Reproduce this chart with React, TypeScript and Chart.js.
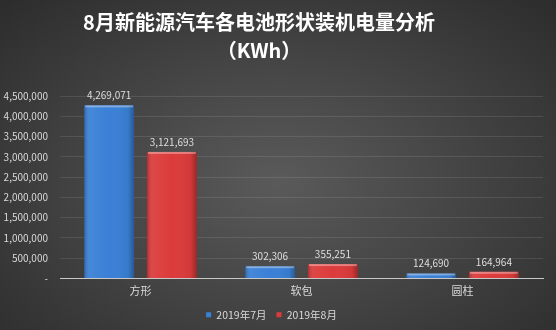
import React, { useEffect, useRef } from "react";
import { Chart, registerables } from "chart.js";

Chart.register(...registerables);

const categories = ["方形", "软包", "圆柱"];
const july2019 = [4269071, 302306, 124690];
const aug2019 = [3121693, 355251, 164964];
const seriesNames = ["2019年7月", "2019年8月"];
const titleLines = ["8月新能源汽车各电池形状装机电量分析", "（KWh）"];

const FONT = '"Noto Sans CJK SC", "Noto Sans", sans-serif';

const valueLabels = {
  id: "valueLabels",
  afterDatasetsDraw(chart: any) {
    const ctx = chart.ctx;
    ctx.save();
    chart.data.datasets.forEach((ds: any, di: number) => {
      const meta = chart.getDatasetMeta(di);
      meta.data.forEach((bar: any, i: number) => {
        const w = bar.width;
        const left = bar.x - w / 2;
        const g = ctx.createLinearGradient(left, 0, left + w, 0);
        g.addColorStop(0, "rgba(0,0,0,0.22)");
        g.addColorStop(0.12, "rgba(255,255,255,0.06)");
        g.addColorStop(0.5, "rgba(255,255,255,0.0)");
        g.addColorStop(0.88, "rgba(0,0,0,0.05)");
        g.addColorStop(1, "rgba(0,0,0,0.3)");
        ctx.fillStyle = g;
        ctx.fillRect(left, bar.y, w, bar.base - bar.y);
        ctx.fillStyle = "rgba(255,255,255,0.35)";
        ctx.fillRect(left + 1, bar.y, w - 2, 2);
        ctx.fillStyle = "#dedede";
        ctx.font = `10px ${FONT}`;
        ctx.textAlign = "center";
        ctx.textBaseline = "bottom";
        const v = ds.data[i] as number;
        ctx.fillText(v.toLocaleString("en-US"), bar.x, bar.y - 5);
      });
    });
    ctx.restore();
  },
};

const titleDraw = {
  id: "titleDraw",
  afterDraw(chart: any) {
    const ctx = chart.ctx;
    ctx.save();
    ctx.fillStyle = "#ffffff";
    ctx.font = `bold 20px ${FONT}`;
    ctx.textAlign = "center";
    ctx.textBaseline = "middle";
    ctx.fillText(titleLines[0], 259, 22);
    ctx.fillText(titleLines[1], 259, 50);
    ctx.restore();
  },
};

export default function App() {
  const ref = useRef<HTMLCanvasElement>(null);
  useEffect(() => {
    const chart = new Chart(ref.current!, {
      type: "bar",
      data: {
        labels: categories,
        datasets: [
          { label: seriesNames[0], data: july2019, backgroundColor: "#3a80d6", borderWidth: 0 },
          { label: seriesNames[1], data: aug2019, backgroundColor: "#dc3b3b", borderWidth: 0 },
        ],
      },
      options: {
        animation: false,
        responsive: false,
        maintainAspectRatio: false,
        layout: { padding: { left: 0, right: 13, top: 0, bottom: 0 } },
        datasets: {
          bar: { categoryPercentage: 0.78, barPercentage: 0.794 },
        },
        plugins: {
          title: {
            display: true,
            text: titleLines,
            color: "rgba(0,0,0,0)",
            font: { family: FONT, size: 20, weight: "bold", lineHeight: 1.4 },
            padding: { top: 8, bottom: 32 },
          },
          legend: {
            position: "bottom",
            labels: {
              color: "#d9d9d9",
              font: { family: FONT, size: 10.5 },
              usePointStyle: true,
              pointStyle: "rect",
              boxWidth: 5,
              boxHeight: 5,
              padding: 10,
            },
          },
          tooltip: { enabled: false },
        },
        scales: {
          x: {
            grid: { display: false, drawTicks: false },
            border: { display: true, color: "#c8c8c8", width: 1 },
            ticks: { color: "#d9d9d9", font: { family: FONT, size: 11 }, padding: 6 },
            afterFit(scale: any) {
              scale.height = 21;
            },
          },
          y: {
            min: 0,
            max: 4500000,
            grid: { color: "rgba(255,255,255,0.1)", drawTicks: false },
            border: { display: false },
            ticks: {
              stepSize: 500000,
              color: "#d9d9d9",
              font: { family: FONT, size: 10 },
              padding: 12,
              callback: (v: any) => (Number(v) === 0 ? "-" : Number(v).toLocaleString("en-US")),
            },
            afterFit(scale: any) {
              scale.width = 60;
            },
          },
        },
      },
      plugins: [valueLabels, titleDraw],
    });
    return () => chart.destroy();
  }, []);
  return (
    <div
      style={{
        position: "fixed",
        left: 0,
        top: 0,
        width: 556,
        height: 330,
        background: "radial-gradient(ellipse at 50% 55%, #5a5a5a 0%, #484848 40%, #2c2c2c 100%)",
      }}
    >
      <canvas ref={ref} width={556} height={330} style={{ display: "block" }} />
    </div>
  );
}
